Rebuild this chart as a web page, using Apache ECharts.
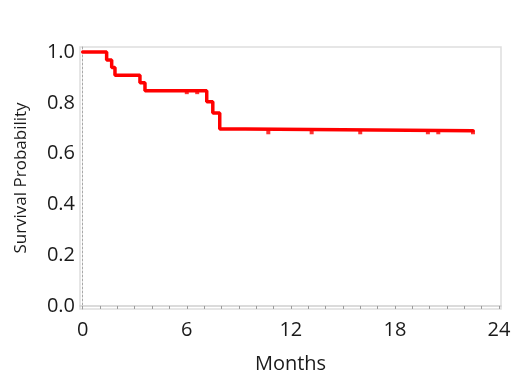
<!DOCTYPE html>
<html>
<head>
<meta charset="utf-8">
<script src="https://cdn.jsdelivr.net/npm/echarts@6/dist/echarts.min.js"></script>
<style>html,body{margin:0;padding:0;background:#fff;}#c{width:520px;height:381px;}</style>
</head>
<body>
<div id="c"></div>
<script>
// Kaplan-Meier step points (time in months, survival probability)
const months = [0, 1.38, 1.67, 1.86, 3.3, 3.59, 7.15, 7.5, 7.9, 9.36, 22.5];
const survival = [1.0, 0.969, 0.939, 0.909, 0.879, 0.848, 0.804, 0.760, 0.697, 0.690, 0.690];
// censoring marks
const censorMonths = [6.0, 6.6, 10.7, 13.2, 16.0, 19.9, 20.5, 22.5];
const censorSurvival = [0.848, 0.848, 0.690, 0.690, 0.690, 0.690, 0.690, 0.690];
// ticks
const xTickLabels = [0, 6, 12, 18, 24];
const xTicks = [0,1,2,3,4,5,6,7,8,9,10,11,12,13,14,15,16,17,18,19,20,21,22,23,24];
const yTickLabels = [0, 0.2, 0.4, 0.6, 0.8, 1.0];

const font = '"Open Sans", "Noto Sans", sans-serif';
const chart = echarts.init(document.getElementById('c'), null, {renderer: 'canvas'});
chart.setOption({
  animation: false,
  backgroundColor: '#ffffff',
  grid: {left: 80, right: 19, top: 47, bottom: 72, containLabel: false, outerBoundsMode: 'none',
    show: true, borderColor: '#dedede', borderWidth: 1.5, backgroundColor: 'transparent'},
  xAxis: [{
    type: 'value', min: -0.156, max: 24.115,
    name: 'Months', nameLocation: 'middle', nameGap: 45,
    nameTextStyle: {fontFamily: font, fontSize: 20, color: '#1a1a1a'},
    axisLine: {show: true, lineStyle: {color: '#cfcfcf', width: 1.5}},
    axisTick: {show: true, customValues: xTicks, length: 3, lineStyle: {color: '#9a9a9a'}},
    axisLabel: {customValues: xTickLabels, fontFamily: font, fontSize: 20, color: '#1a1a1a', margin: 11},
    splitLine: {show: false}
  }],
  yAxis: [{
    type: 'value', min: -0.012, max: 1.02,
    name: 'Survival Probability', nameLocation: 'middle', nameGap: 50,
    nameTextStyle: {fontFamily: font, fontSize: 17, color: '#1a1a1a'},
    axisLine: {show: true, lineStyle: {color: '#a8a8a8', type: [2, 2], width: 1}},
    axisTick: {show: false},
    axisLabel: {customValues: yTickLabels, fontFamily: font, fontSize: 20, color: '#1a1a1a', margin: 5,
      formatter: v => v.toFixed(1)},
    splitLine: {show: false}
  }],
  series: [{
    type: 'line', step: 'end',
    data: months.map((m, i) => [m, survival[i]]),
    symbol: 'none',
    lineStyle: {color: '#ff0000', width: 3.5, cap: 'round'}
  }, {
    type: 'scatter',
    data: censorMonths.map((m, i) => [m, censorSurvival[i]]),
    symbol: 'rect', symbolSize: [4, 4], symbolOffset: [0, 1.5],
    itemStyle: {color: '#ff0000'}
  }]
});
</script>
</body>
</html>
